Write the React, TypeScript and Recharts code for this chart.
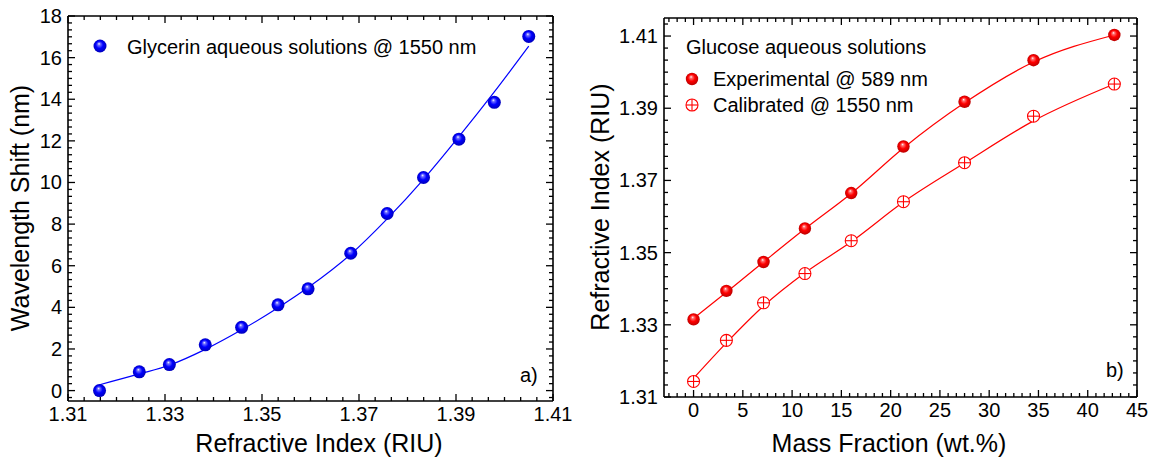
import React from "react";
import { ComposedChart, Scatter, Line, XAxis, YAxis } from "recharts";

// ---- data ----
const GLY_RI = [1.3165, 1.3247, 1.3309, 1.3383, 1.3458, 1.3533, 1.3595, 1.3683, 1.3758, 1.3833, 1.3906, 1.3979, 1.405];
const GLY_SHIFT = [0.0, 0.9, 1.25, 2.2, 3.04, 4.12, 4.89, 6.6, 8.51, 10.24, 12.08, 13.85, 17.02];
const GLY_FIT = [0.28, 0.8, 1.22, 1.98, 2.92, 3.98, 4.95, 6.55, 8.25, 10.15, 12.2, 14.35, 16.55];

const GLU_MASS = [0, 3.33, 7.1, 11.3, 16.0, 21.3, 27.5, 34.5, 42.7];
const GLU_EXP = [1.3315, 1.3394, 1.3474, 1.3567, 1.3665, 1.3794, 1.3918, 1.4033, 1.4103];
const GLU_EXP_FIT = [1.3318, 1.339, 1.3474, 1.3566, 1.3664, 1.379, 1.3915, 1.4028, 1.4103];
const GLU_CAL = [1.3143, 1.3257, 1.3361, 1.3442, 1.3533, 1.3641, 1.3749, 1.3878, 1.3967];
const GLU_CAL_FIT = [1.3152, 1.325, 1.3352, 1.3444, 1.353, 1.364, 1.3748, 1.3865, 1.3967];

const A_X_TICKS = [1.31, 1.33, 1.35, 1.37, 1.39, 1.41];
const A_Y_TICKS = [0, 2, 4, 6, 8, 10, 12, 14, 16, 18];
const B_X_TICKS = [0, 5, 10, 15, 20, 25, 30, 35, 40, 45];
const B_Y_TICKS = [1.31, 1.33, 1.35, 1.37, 1.39, 1.41];

const FONT = '"Liberation Sans", Arial, sans-serif';

const pts = (xs: number[], ys: number[]) => xs.map((x, i) => ({ x, y: ys[i] }));

// major ticks plus 5 minor ticks between them, kept inside the domain
function withMinor(majors: number[], domain: [number, number]) {
  const step = (majors[1] - majors[0]) / 6;
  const out: number[] = [];
  const start = Math.ceil((domain[0] - majors[0]) / step - 1e-6);
  const end = Math.floor((domain[1] - majors[0]) / step + 1e-6);
  for (let i = start; i <= end; i++) out.push(+(majors[0] + i * step).toFixed(6));
  return out;
}

const isMajor = (v: number, majors: number[]) => majors.some((m) => Math.abs(m - v) < 1e-6);

function makeTick(side: string, majors: number[], fmt?: (v: number) => string) {
  return (props: any) => {
    const { x, y, payload } = props;
    const v = payload.value;
    const major = isMajor(v, majors);
    const len = major ? 7 : 4;
    let line;
    if (side === "bottom") line = <line x1={x} x2={x} y1={y} y2={y - len} />;
    else if (side === "top") line = <line x1={x} x2={x} y1={y} y2={y + len} />;
    else if (side === "left") line = <line x1={x} x2={x + len} y1={y} y2={y} />;
    else line = <line x1={x} x2={x - len} y1={y} y2={y} />;
    return (
      <g stroke="#000" strokeWidth={1.3}>
        {line}
        {major && fmt && side === "bottom" && (
          <text x={x} y={y + 20} textAnchor="middle" fontSize={20} fontFamily={FONT} fill="#000" stroke="none">
            {fmt(v)}
          </text>
        )}
        {major && fmt && side === "left" && (
          <text x={x - 6} y={y} dy="0.35em" textAnchor="end" fontSize={20} fontFamily={FONT} fill="#000" stroke="none">
            {fmt(v)}
          </text>
        )}
      </g>
    );
  };
}

function Sphere({ cx, cy, r, color, dark, light, id }: any) {
  return (
    <g>
      <defs>
        <radialGradient id={id} cx="50%" cy="50%" r="55%" fx="42%" fy="32%">
          <stop offset="0%" stopColor="#ffffff" />
          <stop offset="18%" stopColor={light} />
          <stop offset="50%" stopColor={color} />
          <stop offset="100%" stopColor={dark} />
        </radialGradient>
      </defs>
      <circle cx={cx} cy={cy} r={r} fill={`url(#${id})`} />
    </g>
  );
}

function CrossCircle({ cx, cy, r }: any) {
  return (
    <g stroke="#ff0000" strokeWidth={1.1} fill="#fff">
      <circle cx={cx} cy={cy} r={r} />
      <line x1={cx - r} x2={cx + r} y1={cy} y2={cy} />
      <line x1={cx} x2={cx} y1={cy - r} y2={cy + r} />
    </g>
  );
}

const blueSphere = (p: any) => <Sphere cx={p.cx} cy={p.cy} r={6.5} color="#0000ff" light="#7070ff" dark="#0000b0" id="gBlue" />;
const redSphere = (p: any) => <Sphere cx={p.cx} cy={p.cy} r={6.2} color="#ff0000" light="#ff7070" dark="#b00000" id="gRed" />;
const crossShape = (p: any) => <CrossCircle cx={p.cx} cy={p.cy} r={6} />;

const txt = (extra: React.CSSProperties): React.CSSProperties => ({
  position: "absolute",
  fontFamily: FONT,
  color: "#000",
  whiteSpace: "nowrap",
  lineHeight: 1,
  ...extra,
});

const AXIS_LINE = { stroke: "#000", strokeWidth: 1.6 };

// axes are 1px thick so recharts still draws them; ticks point inward
function frameAxes(xMaj: number[], xDom: [number, number], yMaj: number[], yDom: [number, number], fx: (v: number) => string, fy: (v: number) => string) {
  const xt = withMinor(xMaj, xDom);
  const yt = withMinor(yMaj, yDom);
  return [
    <XAxis key="xb" xAxisId={0} dataKey="x" type="number" domain={xDom} allowDataOverflow ticks={xt} interval={0} height={1} tickSize={0} tickMargin={0} tickLine={false} axisLine={AXIS_LINE} tick={makeTick("bottom", xMaj, fx)} />,
    <XAxis key="xt" xAxisId="top" orientation="top" dataKey="x" type="number" domain={xDom} allowDataOverflow ticks={xt} interval={0} height={1} tickSize={0} tickMargin={0} tickLine={false} axisLine={AXIS_LINE} tick={makeTick("top", xMaj)} />,
    <YAxis key="yl" yAxisId={0} dataKey="y" type="number" domain={yDom} allowDataOverflow ticks={yt} interval={0} width={1} tickSize={0} tickMargin={0} tickLine={false} axisLine={AXIS_LINE} tick={makeTick("left", yMaj, fy)} />,
    <YAxis key="yr" yAxisId="right" orientation="right" dataKey="y" type="number" domain={yDom} allowDataOverflow ticks={yt} interval={0} width={1} tickSize={0} tickMargin={0} tickLine={false} axisLine={AXIS_LINE} tick={makeTick("right", yMaj)} />,
  ];
}

export default function App() {
  const gly = pts(GLY_RI, GLY_SHIFT);
  const glyFit = pts(GLY_RI, GLY_FIT);
  const exp = pts(GLU_MASS, GLU_EXP);
  const expFit = pts(GLU_MASS, GLU_EXP_FIT);
  const cal = pts(GLU_MASS, GLU_CAL);
  const calFit = pts(GLU_MASS, GLU_CAL_FIT);

  return (
    <div style={{ position: "absolute", left: 0, top: 0, width: 1150, height: 459, background: "#fff", overflow: "hidden" }}>
      {/* a) glycerin */}
      <div style={{ position: "absolute", left: 0, top: 0 }}>
        <ComposedChart width={580} height={459} margin={{ top: 15, left: 67, right: 26, bottom: 57 }}>
          {frameAxes(A_X_TICKS, [1.31, 1.41], A_Y_TICKS, [-0.5, 18], (v) => v.toFixed(2), (v) => String(v))}
          <Line data={glyFit} dataKey="y" type="monotone" stroke="#0000ff" strokeWidth={1.2} dot={false} activeDot={false} isAnimationActive={false} />
          <Scatter data={gly} dataKey="y" shape={blueSphere} isAnimationActive={false} />
        </ComposedChart>
      </div>

      {/* b) glucose */}
      <div style={{ position: "absolute", left: 580, top: 0 }}>
        <ComposedChart width={570} height={459} margin={{ top: 17, left: 83, right: 12, bottom: 61 }}>
          {frameAxes(B_X_TICKS, [-3, 45], B_Y_TICKS, [1.31, 1.415], (v) => String(v), (v) => v.toFixed(2))}
          <Line data={expFit} dataKey="y" type="monotone" stroke="#ff0000" strokeWidth={1.2} dot={false} activeDot={false} isAnimationActive={false} />
          <Line data={calFit} dataKey="y" type="monotone" stroke="#ff0000" strokeWidth={1.2} dot={false} activeDot={false} isAnimationActive={false} />
          <Scatter data={cal} dataKey="y" shape={crossShape} isAnimationActive={false} />
          <Scatter data={exp} dataKey="y" shape={redSphere} isAnimationActive={false} />
        </ComposedChart>
      </div>

      {/* legends */}
      <svg style={{ position: "absolute", left: 93, top: 39 }} width={14} height={14}>
        <Sphere cx={7} cy={7} r={6.5} color="#0000ff" light="#7070ff" dark="#0000b0" id="lgBlue" />
      </svg>
      <div style={txt({ left: 127, top: 37, fontSize: 20 })}>Glycerin aqueous solutions @ 1550 nm</div>

      <div style={txt({ left: 686, top: 37, fontSize: 20 })}>Glucose aqueous solutions</div>
      <svg style={{ position: "absolute", left: 685, top: 72 }} width={14} height={14}>
        <Sphere cx={7} cy={7} r={6.2} color="#ff0000" light="#ff7070" dark="#b00000" id="lgRed" />
      </svg>
      <div style={txt({ left: 713, top: 69, fontSize: 20 })}>Experimental @ 589 nm</div>
      <svg style={{ position: "absolute", left: 685, top: 98 }} width={14} height={14}>
        <CrossCircle cx={7} cy={7} r={6} />
      </svg>
      <div style={txt({ left: 713, top: 95, fontSize: 20 })}>Calibrated @ 1550 nm</div>

      {/* panel tags */}
      <div style={txt({ left: 520, top: 365, fontSize: 20 })}>a)</div>
      <div style={txt({ left: 1106, top: 360, fontSize: 20 })}>b)</div>

      {/* axis titles */}
      <div style={txt({ left: 319, top: 443, fontSize: 25, transform: "translate(-50%, -50%)" })}>Refractive Index (RIU)</div>
      <div style={txt({ left: 20, top: 208, fontSize: 25, transform: "translate(-50%, -50%) rotate(-90deg)" })}>Wavelength Shift (nm)</div>
      <div style={txt({ left: 889, top: 443, fontSize: 25, transform: "translate(-50%, -50%)" })}>Mass Fraction (wt.%)</div>
      <div style={txt({ left: 600, top: 207, fontSize: 25, transform: "translate(-50%, -50%) rotate(-90deg)" })}>Refractive Index (RIU)</div>
    </div>
  );
}
